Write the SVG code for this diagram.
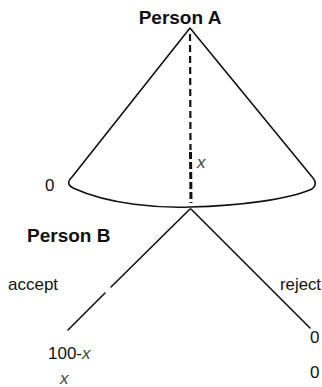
<svg xmlns="http://www.w3.org/2000/svg" width="322" height="387" viewBox="0 0 322 387">
<style>
text{font-family:"Liberation Sans",Arial,sans-serif;fill:#111}
.b{font-weight:bold;font-size:19px}
.r{font-size:17px}
.i{font-style:italic;fill:#444}
.ln{fill:none;stroke:#111;stroke-width:1.6;stroke-linecap:round;stroke-linejoin:round}
</style>
<rect width="322" height="387" fill="#fff"/>
<g id="personA">
<text class="b" x="180" y="24" text-anchor="middle">Person A</text>
<path class="ln" d="M190,28 L72,177 Q65,184 73,188 C110,205 160,208 190,207 C240,206 290,199 312,189 Q318,184 313,178 Z"/>
<text class="r" x="45" y="191">0</text>
</g>
<g id="offer">
<line x1="190" y1="34" x2="190.5" y2="150" stroke="#111" stroke-width="2.2" stroke-dasharray="7 4"/>
<line x1="190.5" y1="152" x2="191" y2="203" stroke="#111" stroke-width="3" stroke-dasharray="7 3"/>
<text class="r i" x="197" y="168">x</text>
</g>
<g id="personB">
<text class="b" x="27" y="242">Person B</text>
</g>
<g id="connectors">
<path class="ln" d="M190,209 L111,287 M105,293 L68,330"/>
<path class="ln" d="M191,209 L310,328"/>
<text class="r" x="8" y="290">accept</text>
<text class="r" x="280" y="290" textLength="41" lengthAdjust="spacingAndGlyphs">reject</text>
</g>
<g id="acceptOutcome">
<text class="r" x="48" y="359">100-<tspan class="i">x</tspan></text>
<text class="r i" x="60" y="384">x</text>
</g>
<g id="rejectOutcome">
<text class="r" x="310" y="343">0</text>
<text class="r" x="310" y="378">0</text>
</g>
</svg>
